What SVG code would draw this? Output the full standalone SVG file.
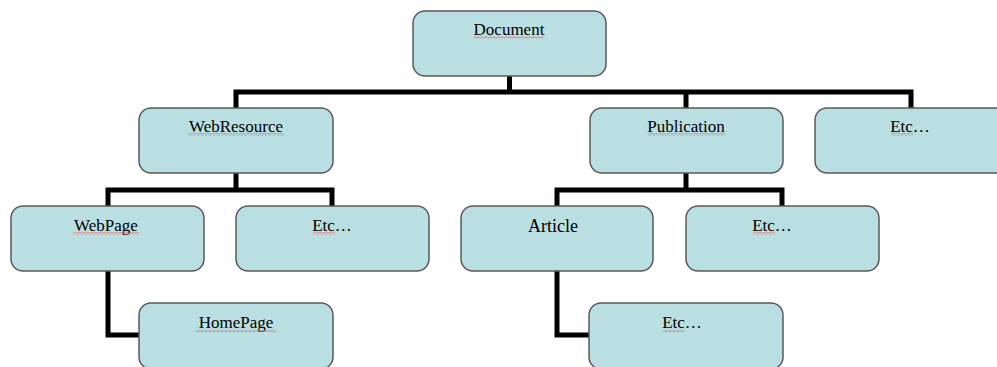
<svg xmlns="http://www.w3.org/2000/svg" width="997" height="367" viewBox="0 0 997 367">
<defs>
<style>
.node rect.box{fill:#badfe2;stroke:#5a5a5a;stroke-width:1.5}
.node text{font-family:"Liberation Serif","Times New Roman",serif;font-size:17px;fill:#000;text-anchor:middle}
.node text.big{font-size:18px}
.conn path{fill:none;stroke:#000;stroke-width:5;stroke-linejoin:miter;stroke-linecap:butt}
.sq{fill:url(#squig)}
</style>
<pattern id="squig" patternUnits="userSpaceOnUse" x="0" y="0" width="4" height="3">
<path d="M0 2.5 L2 0.5 L4 2.5" fill="none" stroke="#e24a4a" stroke-width="0.8"/>
</pattern>
</defs>
<rect width="997" height="367" fill="#fff"/>
<g id="connectors" class="conn">
<path d="M509.5 76 V92"/>
<path d="M236 108 V92 H911 V108"/>
<path d="M686 92 V108"/>
<path d="M236 173 V190"/>
<path d="M108 206 V190 H332 V206"/>
<path d="M686 173 V190"/>
<path d="M557 206 V190 H782 V206"/>
<path d="M108 271 V335 H139"/>
<path d="M557 271 V335 H589"/>
</g>
<g id="document" class="node">
<rect class="box" x="413" y="11" width="193" height="65" rx="12"/>
<text x="509" y="35">Document</text>
<rect class="sq" x="474" y="36" width="70" height="3"/>
</g>
<g id="webresource" class="node">
<rect class="box" x="139" y="108" width="194" height="65" rx="12"/>
<text x="236" y="132">WebResource</text>
<rect class="sq" x="188" y="133" width="96" height="3"/>
</g>
<g id="publication" class="node">
<rect class="box" x="590" y="108" width="193" height="65" rx="12"/>
<text x="686" y="132">Publication</text>
<rect class="sq" x="648" y="133" width="77" height="3"/>
</g>
<g id="etc-top" class="node">
<rect class="box" x="815" y="108" width="193" height="65" rx="12"/>
<text x="910" y="132">Etc…</text>
<rect class="sq" x="891" y="133" width="22" height="3"/>
</g>
<g id="webpage" class="node">
<rect class="box" x="11" y="206" width="193" height="65" rx="12"/>
<text x="106" y="231">WebPage</text>
<rect class="sq" x="73" y="232" width="66" height="3"/>
</g>
<g id="etc-web" class="node">
<rect class="box" x="236" y="206" width="193" height="65" rx="12"/>
<text x="332" y="231">Etc…</text>
<rect class="sq" x="313" y="232" width="22" height="3"/>
</g>
<g id="article" class="node">
<rect class="box" x="461" y="206" width="192" height="65" rx="12"/>
<text class="big" x="553" y="232">Article</text>
</g>
<g id="etc-pub" class="node">
<rect class="box" x="686" y="206" width="193" height="65" rx="12"/>
<text x="772" y="231">Etc…</text>
<rect class="sq" x="753" y="232" width="22" height="3"/>
</g>
<g id="homepage" class="node">
<rect class="box" x="139" y="303" width="194" height="66" rx="12"/>
<text x="236" y="328">HomePage</text>
<rect class="sq" x="196" y="329" width="80" height="3"/>
</g>
<g id="etc-article" class="node">
<rect class="box" x="589" y="303" width="194" height="66" rx="12"/>
<text x="682" y="328">Etc…</text>
<rect class="sq" x="663" y="329" width="22" height="3"/>
</g>
</svg>
